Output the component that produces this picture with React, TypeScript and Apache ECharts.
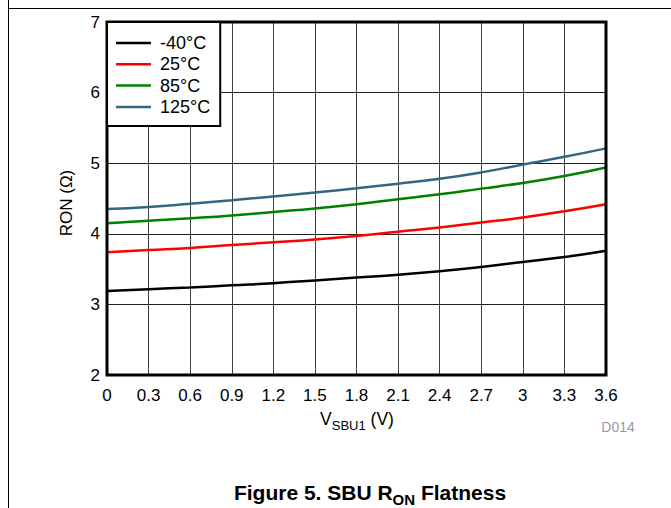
import React, { useEffect, useRef } from "react";
import * as echarts from "echarts";

const xValues = [0, 0.3, 0.6, 0.9, 1.2, 1.5, 1.8, 2.1, 2.4, 2.7, 3.0, 3.3, 3.6];
const seriesNames = ["-40°C", "25°C", "85°C", "125°C"];
const seriesColors = ["#000000", "#ff0000", "#008000", "#336680"];
const ronM40 = [3.19, 3.215, 3.24, 3.27, 3.3, 3.34, 3.38, 3.42, 3.47, 3.53, 3.6, 3.67, 3.76];
const ron25 = [3.74, 3.77, 3.8, 3.84, 3.88, 3.92, 3.97, 4.03, 4.09, 4.16, 4.23, 4.32, 4.42];
const ron85 = [4.15, 4.185, 4.22, 4.26, 4.31, 4.36, 4.42, 4.49, 4.56, 4.64, 4.72, 4.82, 4.94];
const ron125 = [4.35, 4.38, 4.425, 4.475, 4.53, 4.585, 4.645, 4.71, 4.78, 4.87, 4.98, 5.09, 5.21];
const seriesData = [ronM40, ron25, ron85, ron125];

const FONT = "'Liberation Sans', Arial, sans-serif";

export default function App() {
  const ref = useRef<HTMLDivElement>(null);
  useEffect(() => {
    if (!ref.current) return;
    const chart = echarts.init(ref.current, undefined, { renderer: "svg" });
    chart.setOption({
      animation: false,
      backgroundColor: "#ffffff",
      textStyle: { fontFamily: FONT },
      grid: {
        left: 107,
        right: 65,
        top: 22,
        bottom: 133,
        show: true,
        borderColor: "#000",
        borderWidth: 3,
        z: 5,
      },
      legend: {
        orient: "vertical",
        left: 107,
        top: 22,
        data: seriesNames,
        icon: "rect",
        itemWidth: 35,
        itemHeight: 2.5,
        itemGap: 3.3,
        padding: [12, 10, 10, 9],
        borderColor: "#000",
        borderWidth: 2,
        backgroundColor: "#fff",
        textStyle: { fontFamily: FONT, fontSize: 18, color: "#000", padding: [0, 0, 0, 4] },
        z: 10,
      },
      xAxis: {
        type: "value",
        min: 0,
        max: 3.6,
        interval: 0.3,
        axisLine: { show: false },
        axisTick: { show: false },
        axisLabel: {
          margin: 12,
          fontSize: 17,
          color: "#000",
          fontFamily: FONT,
          formatter: (v: number) => String(+v.toFixed(1)),
        },
        splitLine: { show: true, lineStyle: { color: "#404040", width: 1 } },
      },
      yAxis: {
        type: "value",
        min: 2,
        max: 7,
        interval: 1,
        axisLine: { show: false },
        axisTick: { show: false },
        axisLabel: { margin: 7, fontSize: 17, color: "#000", fontFamily: FONT },
        splitLine: { show: true, lineStyle: { color: "#202020", width: 1 } },
      },
      series: seriesNames.map((name, i) => ({
        name,
        type: "line",
        smooth: true,
        showSymbol: false,
        data: xValues.map((x, j) => [x, seriesData[i][j]]),
        lineStyle: { color: seriesColors[i], width: 2.5 },
        itemStyle: { color: seriesColors[i] },
        z: 3,
      })),
      graphic: [
        { type: "line", shape: { x1: 8.5, y1: 0, x2: 8.5, y2: 508 }, style: { stroke: "#000", lineWidth: 1 } },
        { type: "line", shape: { x1: 8.5, y1: 8.5, x2: 671, y2: 8.5 }, style: { stroke: "#000", lineWidth: 1 } },
        {
          type: "text",
          x: 66,
          y: 203,
          rotation: Math.PI / 2,
          style: { text: "RON (Ω)", font: `17px ${FONT}`, fill: "#000", align: "center", verticalAlign: "middle" },
        },
        {
          type: "text",
          x: 357,
          y: 419,
          style: {
            text: "{a|V}{b|SBU1}{a| (V)}",
            align: "center",
            verticalAlign: "middle",
            fill: "#000",
            rich: {
              a: { fontSize: 17.5, fontFamily: FONT, fill: "#000", verticalAlign: "bottom" },
              b: { fontSize: 13, fontFamily: FONT, fill: "#000", verticalAlign: "bottom", padding: [0, 0, -4, 0] },
            },
          },
        },
        {
          type: "text",
          x: 618,
          y: 427,
          style: { text: "D014", font: `14px ${FONT}`, fill: "#999", align: "center", verticalAlign: "middle" },
        },
        {
          type: "text",
          x: 370,
          y: 492,
          style: {
            text: "{a|Figure 5. SBU R}{b|ON}{a| Flatness}",
            align: "center",
            verticalAlign: "middle",
            fill: "#000",
            rich: {
              a: { fontSize: 21, fontWeight: "bold", fontFamily: FONT, fill: "#000", verticalAlign: "bottom" },
              b: { fontSize: 15, fontWeight: "bold", fontFamily: FONT, fill: "#000", verticalAlign: "bottom", padding: [0, 0, -4, 0] },
            },
          },
        },
      ],
    });
    return () => chart.dispose();
  }, []);
  return <div ref={ref} style={{ width: 671, height: 508, position: "absolute", left: 0, top: 0 }} />;
}
